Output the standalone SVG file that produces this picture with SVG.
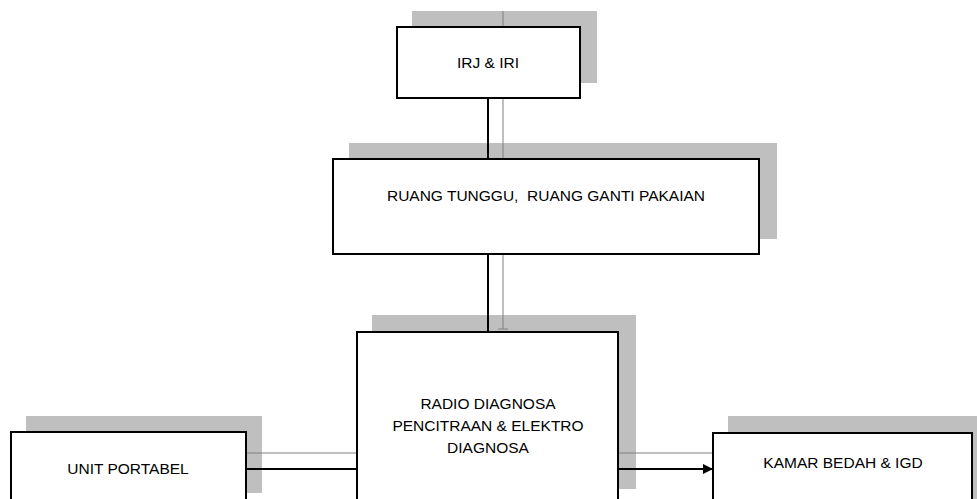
<svg xmlns="http://www.w3.org/2000/svg" width="977" height="499" viewBox="0 0 977 499">
  <style>
    .shadow { fill: #BFBFBF; }
    .box { fill: #FFFFFF; stroke: #000000; stroke-width: 2; }
    .lbl { font-family: "Liberation Sans", Arial, sans-serif; font-size: 15.5px; fill: #000000; text-anchor: middle; }
    .ghost { stroke: #808080; stroke-opacity: 0.5; stroke-width: 2; fill: none; }
    .conn { stroke: #000000; stroke-width: 2; fill: none; }
  </style>
  <defs>
    <marker id="arrow" viewBox="0 0 10 10" refX="10" refY="5" markerWidth="11" markerHeight="10" markerUnits="userSpaceOnUse" orient="auto">
      <path d="M0,0 L10,5 L0,10 Z" fill="#000000"/>
    </marker>
  </defs>
  <rect width="977" height="499" fill="#FFFFFF"/>
  <g id="shadows">
    <rect class="shadow" x="412" y="11" width="185" height="72"/>
    <rect class="shadow" x="349" y="143" width="428" height="96"/>
    <rect class="shadow" x="372" y="315" width="264" height="174"/>
    <rect class="shadow" x="26" y="416" width="236" height="77"/>
    <rect class="shadow" x="728" y="416" width="252" height="90"/>
  </g>
  <g id="connectors">
    <line class="ghost" x1="503" y1="11" x2="503" y2="329"/>
    <line class="ghost" x1="498" y1="329" x2="508" y2="329"/>
    <line class="ghost" x1="246" y1="453" x2="357" y2="453"/>
    <line class="ghost" x1="618" y1="453" x2="713" y2="453"/>
    <line class="conn" x1="488" y1="98" x2="488" y2="159"/>
    <line class="conn" x1="488" y1="254" x2="488" y2="331"/>
    <line class="conn" x1="246" y1="469" x2="357" y2="469"/>
    <line class="conn" x1="618" y1="469" x2="713" y2="469" marker-end="url(#arrow)"/>
  </g>
  <g id="irj">
    <rect class="box" x="397" y="27" width="183" height="71"/>
    <text class="lbl" x="488" y="68">IRJ &amp; IRI</text>
  </g>
  <g id="ruang">
    <rect class="box" x="333" y="159" width="426" height="95"/>
    <text class="lbl" x="546" y="201" xml:space="preserve">RUANG TUNGGU,  RUANG GANTI PAKAIAN</text>
  </g>
  <g id="radio">
    <rect class="box" x="357" y="332" width="261" height="180"/>
    <text class="lbl" x="488" y="409">RADIO DIAGNOSA</text>
    <text class="lbl" x="488" y="431">PENCITRAAN &amp; ELEKTRO</text>
    <text class="lbl" x="488" y="453">DIAGNOSA</text>
  </g>
  <g id="unit">
    <rect class="box" x="11" y="432" width="235" height="80"/>
    <text class="lbl" x="128" y="474">UNIT PORTABEL</text>
  </g>
  <g id="kamar">
    <rect class="box" x="713" y="433" width="259" height="80"/>
    <text class="lbl" x="843" y="468">KAMAR BEDAH &amp; IGD</text>
  </g>
</svg>
